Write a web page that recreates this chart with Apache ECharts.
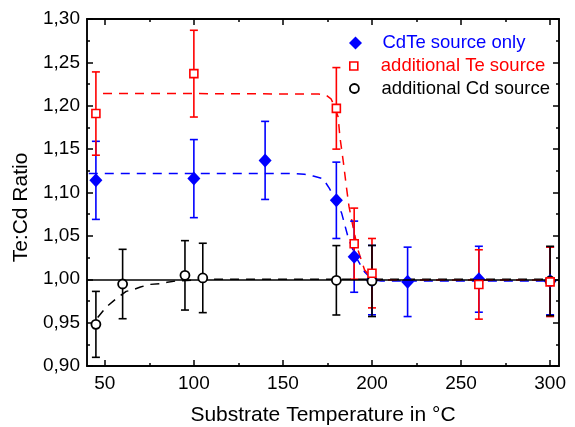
<!DOCTYPE html>
<html>
<head>
<meta charset="utf-8">
<script src="https://cdn.jsdelivr.net/npm/echarts@6/dist/echarts.min.js"></script>
<style>
html,body{margin:0;padding:0;background:#fff;}
#chart{width:575px;height:427px;}
</style>
</head>
<body>
<div id="chart"></div>
<script>
// ---- data ----
var tempBlue  = [45, 100, 140, 180, 190, 200, 220, 260, 300];
var ratioBlue = [1.114, 1.116, 1.137, 1.091, 1.026, 0.999, 0.997, 1.000, 0.998];
var errBlue   = [0.045, 0.045, 0.045, 0.044, 0.041, 0.040, 0.040, 0.038, 0.039];

var tempTe  = [45, 100, 180, 190, 200, 260, 300];
var ratioTe = [1.191, 1.237, 1.197, 1.041, 1.007, 0.994, 0.997];
var errTe   = [0.048, 0.050, 0.047, 0.041, 0.040, 0.040, 0.040];

var tempCd  = [45, 60, 95, 105, 180, 200, 300];
var ratioCd = [0.948, 0.9945, 1.0045, 1.0015, 0.9988, 0.998, 0.998];
var errCd   = [0.038, 0.040, 0.040, 0.040, 0.040, 0.041, 0.040];

var fitBlueX = [41, 100, 155, 162, 167, 172.5, 176, 180, 183, 186.5, 190, 192, 196, 200, 205, 300];
var fitBlueY = [1.122, 1.122, 1.122, 1.121, 1.119, 1.116, 1.105, 1.090, 1.076, 1.049, 1.030, 1.022, 1.008, 1.000, 0.998, 0.998];

var fitTeX = [49, 100, 170, 174, 177, 179, 181, 182, 184, 185.6, 187.1, 189.3, 192.1, 195.8, 199.7, 205, 300];
var fitTeY = [1.214, 1.214, 1.2135, 1.2125, 1.208, 1.199, 1.187, 1.164, 1.134, 1.107, 1.084, 1.061, 1.034, 1.011, 1.001, 0.999, 0.999];

var fitCdX = [46, 50, 52, 56, 62, 66, 70, 75, 81, 85, 90, 100, 110, 300];
var fitCdY = [0.956, 0.966, 0.970, 0.977, 0.986, 0.988, 0.991, 0.994, 0.995, 0.9965, 0.998, 0.999, 1.000, 1.000];

var xMajorTicks = [50, 100, 150, 200, 250, 300];
var xMinorTicks = [75, 125, 175, 225, 275];
var refLevel = 1.0;

var nameBlue = 'CdTe source only';
var nameTe = 'additional Te source';
var nameCd = 'additional Cd source';

// ---- build ----
var BLUE = '#0000ff', RED = '#ff0000', BLACK = '#000000';
var FONT = '"Liberation Sans", Arial, sans-serif';

function zip(xs, ys) { return xs.map(function (x, i) { return [x, ys[i]]; }); }
function errData(xs, ys, es) { return xs.map(function (x, i) { return [x, ys[i] - es[i], ys[i] + es[i]]; }); }

function errRender(color) {
  return function (params, api) {
    var x = api.value(0), lo = api.value(1), hi = api.value(2);
    var a = api.coord([x, lo]), b = api.coord([x, hi]);
    var w = 4;
    var st = { stroke: color, lineWidth: 1.6 };
    return { type: 'group', children: [
      { type: 'line', shape: { x1: a[0], y1: a[1], x2: b[0], y2: b[1] }, style: st },
      { type: 'line', shape: { x1: a[0] - w, y1: a[1], x2: a[0] + w, y2: a[1] }, style: st },
      { type: 'line', shape: { x1: b[0] - w, y1: b[1], x2: b[0] + w, y2: b[1] }, style: st }
    ]};
  };
}

var axisLineStyle = { show: true, lineStyle: { color: BLACK, width: 1.5 } };

function xAx(pos, ticks, len, labels) {
  return {
    type: 'value', min: 40, max: 305, position: pos,
    axisLine: axisLineStyle,
    axisTick: { show: true, inside: true, length: len, customValues: ticks, lineStyle: { color: BLACK, width: 1.5 } },
    axisLabel: labels ? { show: true, customValues: xMajorTicks, color: BLACK, fontSize: 19, fontFamily: FONT, margin: 8 } : { show: false },
    splitLine: { show: false }
  };
}

function yAx(pos, labels) {
  return {
    type: 'value', min: 0.9, max: 1.3, interval: 0.05, position: pos,
    axisLine: axisLineStyle,
    axisTick: { show: true, inside: true, length: 6, lineStyle: { color: BLACK, width: 1.5 } },
    minorTick: { show: true, splitNumber: 2, length: 3, lineStyle: { color: BLACK, width: 1.5 } },
    axisLabel: labels ? { show: true, color: BLACK, fontSize: 19, fontFamily: FONT, margin: 7,
      formatter: function (v) { return v.toFixed(2).replace('.', ','); } } : { show: false },
    splitLine: { show: false }, minorSplitLine: { show: false }
  };
}

var xAxes = [
  xAx('bottom', xMajorTicks, 6, true),
  xAx('bottom', xMinorTicks, 3, false),
  xAx('top', xMajorTicks, 6, false),
  xAx('top', xMinorTicks, 3, false)
];
xAxes[0].name = 'Substrate Temperature in °C';
xAxes[0].nameLocation = 'middle';
xAxes[0].nameGap = 39;
xAxes[0].nameTextStyle = { fontSize: 21, color: BLACK, fontFamily: FONT };

var yAxes = [yAx('left', true), yAx('right', false)];
yAxes[0].name = 'Te:Cd Ratio';
yAxes[0].nameLocation = 'middle';
yAxes[0].nameGap = 47;
yAxes[0].nameTextStyle = { fontSize: 21, color: BLACK, fontFamily: FONT, padding: [0, 30, 0, 0] };

var diamondPath = 'path://M0,-1L1,0L0,1L-1,0Z';
var squarePath = 'path://M0,0L1,0L1,1L0,1Z';
var circlePath = 'path://M1,0A1,1,0,1,1,-1,0A1,1,0,1,1,1,0Z';

function leg(name, icon, size, top, itemStyle, color) {
  return {
    left: 349, top: top, padding: 0, itemWidth: 44, itemHeight: size,
    selectedMode: false,
    textStyle: { fontSize: 18.5, fontFamily: FONT, color: color, lineHeight: 20 },
    data: [{ name: name, icon: icon, itemStyle: itemStyle, textStyle: { color: color } }]
  };
}

var option = {
  backgroundColor: '#fff',
  animation: false,
  grid: { left: 87, right: 16, top: 19, bottom: 61, show: true, borderColor: BLACK, borderWidth: 1.5,
    containLabel: false, outerBoundsMode: 'none' },
  xAxis: xAxes,
  yAxis: yAxes,
  legend: [
    leg(nameBlue, diamondPath, 13, 33, { color: BLUE, borderWidth: 0 }, BLUE),
    leg(nameTe, squarePath, 8, 56, { color: '#fff', borderColor: RED, borderWidth: 1.6 }, RED),
    leg(nameCd, circlePath, 9, 78.5, { color: '#fff', borderColor: BLACK, borderWidth: 1.8 }, BLACK)
  ],
  series: [
    { type: 'line', name: 'fitCd', data: zip(fitCdX, fitCdY), symbol: 'none', z: 2,
      lineStyle: { color: BLACK, width: 1.5, type: [9, 7] },
      markLine: { silent: true, symbol: 'none', label: { show: false },
        lineStyle: { color: BLACK, width: 1.5, type: 'solid' }, data: [{ yAxis: refLevel }] } },
    { type: 'line', name: 'fitBlue', data: zip(fitBlueX, fitBlueY), symbol: 'none', z: 2,
      lineStyle: { color: BLUE, width: 1.5, type: [9, 7] } },
    { type: 'line', name: 'fitTe', data: zip(fitTeX, fitTeY), symbol: 'none', z: 2,
      lineStyle: { color: RED, width: 1.5, type: [9, 7] } },

    { type: 'custom', name: 'errBlue', data: errData(tempBlue, ratioBlue, errBlue), renderItem: errRender(BLUE), encode: { x: 0, y: [1, 2] }, z: 3 },
    { type: 'custom', name: 'errTe', data: errData(tempTe, ratioTe, errTe), renderItem: errRender(RED), encode: { x: 0, y: [1, 2] }, z: 3 },
    { type: 'custom', name: 'errCd', data: errData(tempCd, ratioCd, errCd), renderItem: errRender(BLACK), encode: { x: 0, y: [1, 2] }, z: 3 },

    { type: 'scatter', name: nameBlue, data: zip(tempBlue, ratioBlue), symbol: 'diamond', symbolSize: [13, 14], z: 4,
      itemStyle: { color: BLUE, opacity: 1 } },
    { type: 'scatter', name: nameCd, data: zip(tempCd, ratioCd), symbol: 'circle', symbolSize: 9, z: 5,
      itemStyle: { color: '#fff', borderColor: BLACK, borderWidth: 1.8, opacity: 1 } },
    { type: 'scatter', name: nameTe, data: zip(tempTe, ratioTe), symbol: 'rect', symbolSize: 8, z: 6,
      itemStyle: { color: '#fff', borderColor: RED, borderWidth: 1.6, opacity: 1 } }
  ]
};

var chart = echarts.init(document.getElementById('chart'), null, { renderer: 'canvas' });
chart.setOption(option);
</script>
</body>
</html>
